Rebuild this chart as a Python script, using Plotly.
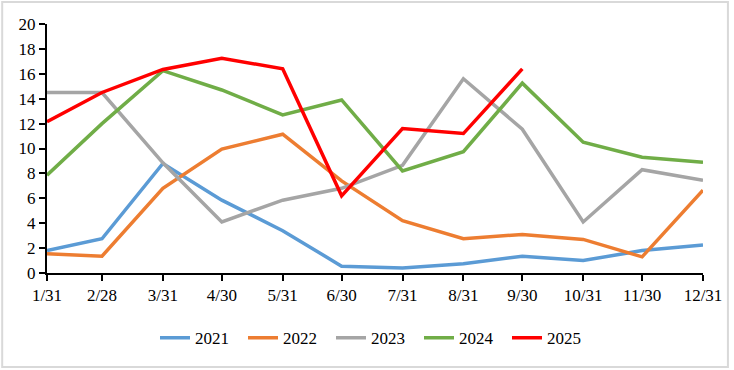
import plotly.graph_objects as go

dates = ["2021-01-31", "2021-02-28", "2021-03-31", "2021-04-30", "2021-05-31", "2021-06-30",
         "2021-07-31", "2021-08-31", "2021-09-30", "2021-10-31", "2021-11-30", "2021-12-31"]
tick_labels = ["1/31", "2/28", "3/31", "4/30", "5/31", "6/30",
               "7/31", "8/31", "9/30", "10/31", "11/30", "12/31"]

y2021 = [1.8, 2.75, 8.8, 5.85, 3.4, 0.55, 0.4, 0.75, 1.35, 1.0, 1.8, 2.25]
y2022 = [1.55, 1.35, 6.8, 9.95, 11.15, 7.4, 4.2, 2.75, 3.1, 2.7, 1.3, 6.65]
y2023 = [14.5, 14.5, 8.85, 4.1, 5.85, 6.8, 8.65, 15.6, 11.55, 4.1, 8.3, 7.45]
y2024 = [7.85, 12.0, 16.25, 14.7, 12.7, 13.9, 8.2, 9.75, 15.25, 10.5, 9.3, 8.9]
y2025 = [12.15, 14.5, 16.35, 17.25, 16.4, 6.2, 11.6, 11.2, 16.4]

series = [
    ("2021", y2021, "#5B9BD5"),
    ("2022", y2022, "#ED7D31"),
    ("2023", y2023, "#A5A5A5"),
    ("2024", y2024, "#70AD47"),
    ("2025", y2025, "#FF0000"),
]

fig = go.Figure()
for name, vals, color in series:
    fig.add_trace(go.Scatter(
        x=dates[:len(vals)], y=vals, name=name, mode="lines",
        line=dict(color=color, width=3.5)
    ))

font = dict(family="'Times New Roman', 'Liberation Serif', serif", size=17, color="black")

fig.update_layout(
    width=734, height=370,
    margin=dict(l=47, r=28, t=24, b=97),
    paper_bgcolor="white", plot_bgcolor="white",
    font=font,
    showlegend=True,
    legend=dict(orientation="h", x=0.5, xanchor="center", y=-0.262, yanchor="middle",
                font=font, entrywidth=43, entrywidthmode="pixels"),
    xaxis=dict(
        type="date", range=[dates[0], dates[-1]],
        tickvals=dates, ticktext=tick_labels,
        showgrid=False, zeroline=False,
        showline=True, linecolor="black", linewidth=2,
        ticks="outside", ticklen=6, tickwidth=2, tickcolor="black",
        tickfont=font,
    ),
    yaxis=dict(
        range=[0, 20], tickvals=list(range(0, 21, 2)),
        showgrid=False, zeroline=False,
        showline=True, linecolor="black", linewidth=2,
        ticks="outside", ticklen=6, tickwidth=2, tickcolor="black",
        tickfont=font,
    ),
    shapes=[dict(type="rect", xref="paper", yref="paper",
                 x0=-0.0683, x1=1.038, y0=-0.3775, y1=1.088,
                 line=dict(color="#D9D9D9", width=2), fillcolor="rgba(0,0,0,0)", layer="below")],
)

fig.write_html("out.html", config={"displayModeBar": False},
               post_script="document.body.style.margin='0';")
